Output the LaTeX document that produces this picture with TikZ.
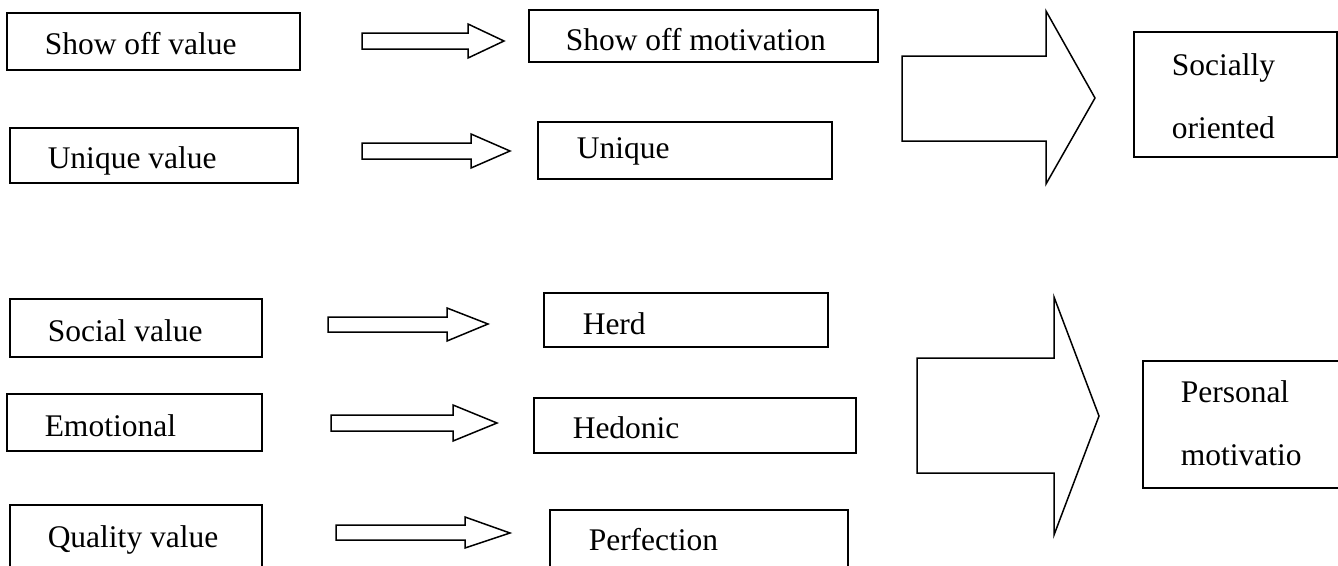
\documentclass[tikz,border=0pt]{standalone}
\usepackage{fontspec}
\setmainfont{Liberation Serif}
\begin{document}
\begin{tikzpicture}[x=1pt,y=-1pt,
  line width=1.5pt, line join=miter,
  box/.style={draw, line width=1.5pt},
  txt/.style={anchor=base west, inner sep=0pt, font=\fontsize{31.5}{38}\selectfont},
  blockarrow/.style={draw, line width=1.5pt, fill=white}]
\useasboundingbox (0,0) rectangle (1338,565);
\clip (0,0) rectangle (1338,565);
% left boxes
\draw[box] (7,13) rectangle (300,70) coordinate (b1);
\node[txt] (t1) at (44,54) {Show off value};
\draw[box] (10,128) rectangle (298,183);
\node[txt] (t2) at (47,168) {Unique value};
\draw[box] (10,299) rectangle (262,357);
\node[txt] (t3) at (47,341) {Social value};
\draw[box] (7,394) rectangle (262,451);
\node[txt] (t4) at (44,436) {Emotional};
\draw[box] (10,505) rectangle (262,580);
\node[txt] (t5) at (47,547) {Quality value};
% middle boxes
\draw[box] (529,10) rectangle (878,62);
\node[txt] (m1) at (565,50) {Show off motivation};
\draw[box] (538,122) rectangle (832,179);
\node[txt] (m2) at (576,158) {Unique};
\draw[box] (544,293) rectangle (828,347);
\node[txt] (m3) at (582,334) {Herd};
\draw[box] (534,398) rectangle (856,453);
\node[txt] (m4) at (572,438) {Hedonic};
\draw[box] (550,510) rectangle (848,580);
\node[txt] (m5) at (588,550) {Perfection};
% right boxes
\draw[box] (1134,32) rectangle (1337,157);
\node[txt] (r1a) at (1171,75) {Socially};
\node[txt] (r1b) at (1171,138) {oriented};
\draw[box] (1143,361) rectangle (1350,488);
\node[txt] (r2a) at (1180,402) {Personal};
\node[txt] (r2b) at (1180,465) {motivatio};
% small block arrows
\draw[blockarrow] (362,33) -- (468,33) -- (468,24) -- (504,41) -- (468,58) -- (468,49) -- (362,49) -- cycle;
\draw[blockarrow] (362,143) -- (471,143) -- (471,134) -- (510,151) -- (471,168) -- (471,159) -- (362,159) -- cycle;
\draw[blockarrow] (328,317) -- (447,317) -- (447,308) -- (488,324) -- (447,341) -- (447,332) -- (328,332) -- cycle;
\draw[blockarrow] (331,415) -- (453,415) -- (453,405) -- (497,423) -- (453,441) -- (453,431) -- (331,431) -- cycle;
\draw[blockarrow] (336,525) -- (465,525) -- (465,517) -- (510,533) -- (465,548) -- (465,540) -- (336,540) -- cycle;
% big block arrows
\draw[blockarrow] (902,56) -- (1046,56) -- (1046,11) -- (1095,98) -- (1046,184) -- (1046,141) -- (902,141) -- cycle;
\draw[blockarrow] (917,358) -- (1054,358) -- (1054,297) -- (1099,416) -- (1054,535) -- (1054,473) -- (917,473) -- cycle;
\end{tikzpicture}
\end{document}
